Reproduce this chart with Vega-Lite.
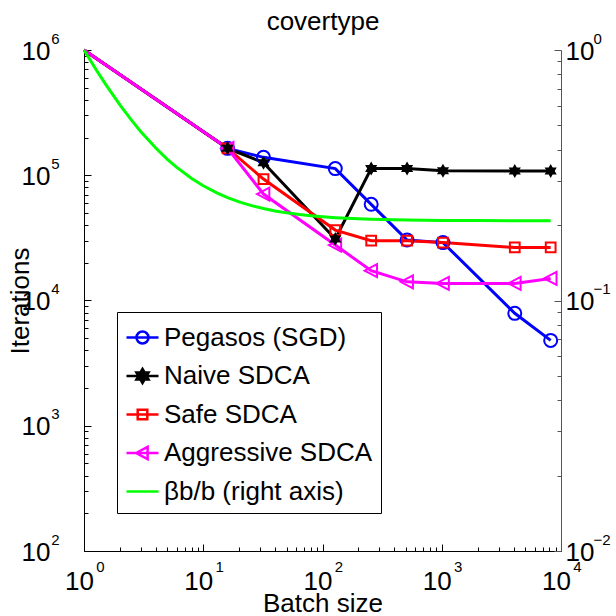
{
  "$schema": "https://vega.github.io/schema/vega-lite/v6.json",
  "autosize": {"type": "none"},
  "width": 477,
  "height": 501,
  "padding": {"left": 84, "top": 50, "right": 55, "bottom": 65},
  "background": "white",
  "config": {"view": {"stroke": null}, "font": "Liberation Sans"},
  "datasets": {
    "iter": [
      {"series": "Pegasos (SGD)", "b": 1, "iter": 1000000},
      {"series": "Pegasos (SGD)", "b": 16, "iter": 164000},
      {"series": "Pegasos (SGD)", "b": 32, "iter": 139000},
      {"series": "Pegasos (SGD)", "b": 128, "iter": 113000},
      {"series": "Pegasos (SGD)", "b": 256, "iter": 58600},
      {"series": "Pegasos (SGD)", "b": 512, "iter": 30400},
      {"series": "Pegasos (SGD)", "b": 1024, "iter": 29000},
      {"series": "Pegasos (SGD)", "b": 4096, "iter": 7900},
      {"series": "Pegasos (SGD)", "b": 8192, "iter": 4800},
      {"series": "Naive SDCA", "b": 1, "iter": 1000000},
      {"series": "Naive SDCA", "b": 16, "iter": 164000},
      {"series": "Naive SDCA", "b": 32, "iter": 126000},
      {"series": "Naive SDCA", "b": 128, "iter": 31000},
      {"series": "Naive SDCA", "b": 256, "iter": 113000},
      {"series": "Naive SDCA", "b": 512, "iter": 113000},
      {"series": "Naive SDCA", "b": 1024, "iter": 108500},
      {"series": "Naive SDCA", "b": 4096, "iter": 108000},
      {"series": "Naive SDCA", "b": 8192, "iter": 108000},
      {"series": "Safe SDCA", "b": 1, "iter": 1000000},
      {"series": "Safe SDCA", "b": 16, "iter": 164000},
      {"series": "Safe SDCA", "b": 32, "iter": 93300},
      {"series": "Safe SDCA", "b": 128, "iter": 36500},
      {"series": "Safe SDCA", "b": 256, "iter": 30000},
      {"series": "Safe SDCA", "b": 512, "iter": 30000},
      {"series": "Safe SDCA", "b": 1024, "iter": 29000},
      {"series": "Safe SDCA", "b": 4096, "iter": 26500},
      {"series": "Safe SDCA", "b": 8192, "iter": 26500},
      {"series": "Aggressive SDCA", "b": 1, "iter": 1000000},
      {"series": "Aggressive SDCA", "b": 16, "iter": 164000},
      {"series": "Aggressive SDCA", "b": 32, "iter": 70800},
      {"series": "Aggressive SDCA", "b": 128, "iter": 27700},
      {"series": "Aggressive SDCA", "b": 256, "iter": 17300},
      {"series": "Aggressive SDCA", "b": 512, "iter": 14100},
      {"series": "Aggressive SDCA", "b": 1024, "iter": 13700},
      {"series": "Aggressive SDCA", "b": 4096, "iter": 13700},
      {"series": "Aggressive SDCA", "b": 8192, "iter": 15000}
    ],
    "beta": [
      {"series": "βb/b (right axis)", "b": 1, "beta": 1.0},
      {"series": "βb/b (right axis)", "b": 1.25, "beta": 0.842},
      {"series": "βb/b (right axis)", "b": 1.5, "beta": 0.736},
      {"series": "βb/b (right axis)", "b": 2, "beta": 0.604},
      {"series": "βb/b (right axis)", "b": 2.5, "beta": 0.525},
      {"series": "βb/b (right axis)", "b": 3, "beta": 0.472},
      {"series": "βb/b (right axis)", "b": 4, "beta": 0.406},
      {"series": "βb/b (right axis)", "b": 5, "beta": 0.366},
      {"series": "βb/b (right axis)", "b": 6, "beta": 0.34},
      {"series": "βb/b (right axis)", "b": 8, "beta": 0.307},
      {"series": "βb/b (right axis)", "b": 10, "beta": 0.287},
      {"series": "βb/b (right axis)", "b": 13, "beta": 0.269},
      {"series": "βb/b (right axis)", "b": 16, "beta": 0.2575},
      {"series": "βb/b (right axis)", "b": 20, "beta": 0.2476},
      {"series": "βb/b (right axis)", "b": 25, "beta": 0.2397},
      {"series": "βb/b (right axis)", "b": 32, "beta": 0.2328},
      {"series": "βb/b (right axis)", "b": 40, "beta": 0.2278},
      {"series": "βb/b (right axis)", "b": 50, "beta": 0.2238},
      {"series": "βb/b (right axis)", "b": 64, "beta": 0.2204},
      {"series": "βb/b (right axis)", "b": 80, "beta": 0.2179},
      {"series": "βb/b (right axis)", "b": 100, "beta": 0.2159},
      {"series": "βb/b (right axis)", "b": 128, "beta": 0.2142},
      {"series": "βb/b (right axis)", "b": 160, "beta": 0.213},
      {"series": "βb/b (right axis)", "b": 200, "beta": 0.212},
      {"series": "βb/b (right axis)", "b": 256, "beta": 0.2111},
      {"series": "βb/b (right axis)", "b": 400, "beta": 0.21},
      {"series": "βb/b (right axis)", "b": 512, "beta": 0.2095},
      {"series": "βb/b (right axis)", "b": 1024, "beta": 0.2088},
      {"series": "βb/b (right axis)", "b": 2048, "beta": 0.2084},
      {"series": "βb/b (right axis)", "b": 4096, "beta": 0.2082},
      {"series": "βb/b (right axis)", "b": 8192, "beta": 0.2081}
    ],
    "start": [
      {"series": "Pegasos (SGD)", "b": 1, "rel": 1},
      {"series": "Naive SDCA", "b": 1, "rel": 1},
      {"series": "Safe SDCA", "b": 1, "rel": 1},
      {"series": "Aggressive SDCA", "b": 1, "rel": 1},
      {"series": "βb/b (right axis)", "b": 1, "rel": 1}
    ]
  },
  "resolve": {"scale": {"y": "independent", "color": "independent", "shape": "independent", "fill": "independent", "stroke": "independent"}, "axis": {"x": "independent", "y": "independent"}},
  "layer": [
    {
      "data": {"name": "iter"},
      "mark": {"type": "line", "strokeWidth": 3},
      "encoding": {
        "x": {"field": "b", "type": "quantitative", "scale": {"type": "log", "domain": [1, 10000], "nice": false},
          "axis": {"orient": "bottom", "values": [1, 10, 100, 1000, 10000], "labelExpr": "'10'", "labelFont": "Liberation Sans", "labelFontSize": 26, "labelColor": "black", "labelBaseline": "alphabetic", "labelAlign": "center", "labelOffset": -5, "labelPadding": 45.5, "labelFlush": false, "labelOverlap": false, "tickSize": -7, "tickColor": "black", "tickWidth": 1, "domainColor": "black", "domainWidth": 1, "grid": false,
            "title": "Batch size", "titleFont": "Liberation Sans", "titleFontSize": 26, "titleFontWeight": "normal", "titleColor": "black", "titleBaseline": "alphabetic", "titleY": 60}},
        "y": {"field": "iter", "type": "quantitative", "scale": {"type": "log", "domain": [100, 1000000], "nice": false},
          "axis": {"orient": "left", "values": [100, 1000, 10000, 100000, 1000000], "labelExpr": "'10'", "labelFont": "Liberation Sans", "labelFontSize": 26, "labelColor": "black", "labelBaseline": "middle", "labelAlign": "right", "labelOffset": 1, "labelPadding": 41, "labelFlush": false, "labelOverlap": false, "tickSize": -7, "tickColor": "black", "domainColor": "black", "domainWidth": 1, "grid": false,
            "title": "Iterations", "titleFont": "Liberation Sans", "titleFontSize": 26, "titleFontWeight": "normal", "titleColor": "black", "titleAngle": -90, "titleBaseline": "alphabetic", "titleAlign": "center", "titleX": -56, "titleY": 250.5}},
        "color": {"field": "series", "type": "nominal",
          "scale": {"domain": ["Pegasos (SGD)", "Naive SDCA", "Safe SDCA", "Aggressive SDCA"], "range": ["#0000ff", "#000000", "#ff0000", "#ff00ff"]}, "legend": null}
      }
    },
    {
      "data": {"name": "iter"},
      "transform": [{"filter": {"field": "b", "gte": 16}}, {"filter": "datum.series !== 'Naive SDCA'"}],
      "mark": {"type": "point", "filled": false, "strokeWidth": 2, "size": 169, "opacity": 1},
      "encoding": {
        "x": {"field": "b", "type": "quantitative", "scale": {"type": "log", "domain": [1, 10000], "nice": false},
          "axis": {"orient": "bottom", "values": [2, 3, 4, 5, 6, 7, 8, 9, 20, 30, 40, 50, 60, 70, 80, 90, 200, 300, 400, 500, 600, 700, 800, 900, 2000, 3000, 4000, 5000, 6000, 7000, 8000, 9000], "labels": false, "domain": false, "grid": false, "tickSize": -4, "tickColor": "black", "title": null}},
        "y": {"field": "iter", "type": "quantitative", "scale": {"type": "log", "domain": [100, 1000000], "nice": false},
          "axis": {"orient": "left", "values": [200, 300, 400, 500, 600, 700, 800, 900, 2000, 3000, 4000, 5000, 6000, 7000, 8000, 9000, 20000, 30000, 40000, 50000, 60000, 70000, 80000, 90000, 200000, 300000, 400000, 500000, 600000, 700000, 800000, 900000], "labels": false, "domain": false, "grid": false, "tickSize": -4, "tickColor": "black", "title": null}},
        "stroke": {"field": "series", "type": "nominal", "scale": {"domain": ["Pegasos (SGD)", "Safe SDCA", "Aggressive SDCA"], "range": ["#0000ff", "#ff0000", "#ff00ff"]}, "legend": null},
        "shape": {"field": "series", "type": "nominal", "scale": {"domain": ["Pegasos (SGD)", "Safe SDCA", "Aggressive SDCA"], "range": ["circle", "M-0.75,-0.75H0.75V0.75H-0.75Z", "M-1,0L0.9,-1L0.9,1Z"]}, "legend": null}
      }
    },
    {
      "data": {"name": "iter"},
      "transform": [{"filter": {"field": "b", "gte": 16}}, {"filter": "datum.series === 'Naive SDCA'"}],
      "mark": {"type": "point", "filled": true, "color": "black", "opacity": 1, "size": 196, "shape": "M0,-1L0.289,-0.5L0.866,-0.5L0.577,0L0.866,0.5L0.289,0.5L0,1L-0.289,0.5L-0.866,0.5L-0.577,0L-0.866,-0.5L-0.289,-0.5Z"},
      "encoding": {
        "x": {"field": "b", "type": "quantitative", "scale": {"type": "log", "domain": [1, 10000], "nice": false},
          "axis": {"orient": "bottom", "values": [1, 10, 100, 1000, 10000], "labelExpr": "format(round(log(datum.value)/LN10),'d')", "labelFont": "Liberation Sans", "labelFontSize": 15, "labelColor": "black", "labelBaseline": "middle", "labelAlign": "center", "labelOffset": 16, "labelPadding": 15, "labelFlush": false, "labelOverlap": false, "ticks": false, "tickSize": 0, "domain": false, "grid": false, "title": null}},
        "y": {"field": "iter", "type": "quantitative", "scale": {"type": "log", "domain": [100, 1000000], "nice": false},
          "axis": {"orient": "left", "values": [100, 1000, 10000, 100000, 1000000], "labelExpr": "format(round(log(datum.value)/LN10),'d')", "labelFont": "Liberation Sans", "labelFontSize": 15, "labelColor": "black", "labelBaseline": "middle", "labelAlign": "right", "labelOffset": -12, "labelPadding": 25, "labelFlush": false, "labelOverlap": false, "ticks": false, "tickSize": 0, "domain": false, "grid": false, "title": null}}
      }
    },
    {
      "data": {"name": "beta"},
      "mark": {"type": "line", "strokeWidth": 3, "color": "#00ff00"},
      "encoding": {
        "x": {"field": "b", "type": "quantitative", "scale": {"type": "log", "domain": [1, 10000], "nice": false}, "axis": null},
        "y": {"field": "beta", "type": "quantitative", "scale": {"type": "log", "domain": [0.01, 1], "nice": false},
          "axis": {"orient": "right", "values": [0.01, 0.1, 1], "labelExpr": "'10'", "labelFont": "Liberation Sans", "labelFontSize": 26, "labelColor": "black", "labelBaseline": "middle", "labelAlign": "left", "labelOffset": 1, "labelPadding": 11, "labelFlush": false, "labelOverlap": false, "tickSize": -7, "tickColor": "#555555", "domainColor": "#555555", "domainWidth": 1, "grid": false, "title": null}}
      }
    },
    {
      "data": {"name": "beta"},
      "mark": {"type": "line", "strokeWidth": 3, "strokeOpacity": 0, "color": "#00ff00"},
      "encoding": {
        "x": {"field": "b", "type": "quantitative", "scale": {"type": "log", "domain": [1, 10000], "nice": false},
          "axis": {"orient": "top", "domain": false, "ticks": false, "labels": false, "grid": false,
            "title": "covertype", "titleFont": "Liberation Sans", "titleFontSize": 26, "titleFontWeight": "normal", "titleColor": "black", "titleBaseline": "alphabetic", "titleY": -21}},
        "y": {"field": "beta", "type": "quantitative", "scale": {"type": "log", "domain": [0.01, 1], "nice": false},
          "axis": {"orient": "right", "values": [0.02, 0.03, 0.04, 0.05, 0.06, 0.07, 0.08, 0.09, 0.2, 0.3, 0.4, 0.5, 0.6, 0.7, 0.8, 0.9], "labels": false, "domain": false, "grid": false, "tickSize": -4, "tickColor": "#555555", "title": null}}
      }
    },
    {
      "data": {"name": "beta"},
      "mark": {"type": "line", "strokeWidth": 3, "strokeOpacity": 0, "color": "#00ff00"},
      "encoding": {
        "x": {"field": "b", "type": "quantitative", "scale": {"type": "log", "domain": [1, 10000], "nice": false}, "axis": null},
        "y": {"field": "beta", "type": "quantitative", "scale": {"type": "log", "domain": [0.01, 1], "nice": false},
          "axis": {"orient": "right", "values": [0.01, 0.1, 1], "labelExpr": "format(round(log(datum.value)/LN10),'d')", "labelFont": "Liberation Sans", "labelFontSize": 15, "labelColor": "black", "labelBaseline": "middle", "labelAlign": "left", "labelOffset": -12, "labelPadding": 32, "labelFlush": false, "labelOverlap": false, "ticks": false, "tickSize": 0, "domain": false, "grid": false, "title": null}}
      }
    },
    {
      "data": {"name": "start"},
      "mark": {"type": "point", "filled": false, "opacity": 0, "strokeWidth": 2.5},
      "encoding": {
        "x": {"field": "b", "type": "quantitative", "scale": {"type": "log", "domain": [1, 10000], "nice": false}, "axis": null},
        "y": {"field": "rel", "type": "quantitative", "scale": {"type": "log", "domain": [0.01, 1], "nice": false}, "axis": null},
        "color": {"field": "series", "type": "nominal",
          "scale": {"domain": ["Pegasos (SGD)", "Naive SDCA", "Safe SDCA", "Aggressive SDCA", "βb/b (right axis)"], "range": ["#0000ff", "#000000", "#ff0000", "#ff00ff", "#00ff00"]},
          "legend": {"orient": "none", "legendX": 33, "legendY": 262, "title": null, "labelFont": "Liberation Sans", "labelFontSize": 26, "labelColor": "black", "labelOffset": 4, "labelLimit": 400, "symbolSize": 1024, "symbolStrokeWidth": 2.5, "symbolOpacity": 1, "rowPadding": 7.5, "padding": 8, "strokeColor": "black", "fillColor": "white", "cornerRadius": 0}},
        "shape": {"field": "series", "type": "nominal",
          "scale": {"domain": ["Pegasos (SGD)", "Naive SDCA", "Safe SDCA", "Aggressive SDCA", "βb/b (right axis)"], "range": [
            "M-1,0H1M0.375,0A0.375,0.375,0,1,1,-0.375,0A0.375,0.375,0,1,1,0.375,0",
            "M-1,0H1M0,-0.44L0.127,-0.22L0.381,-0.22L0.254,0L0.381,0.22L0.127,0.22L0,0.44L-0.127,0.22L-0.381,0.22L-0.254,0L-0.381,-0.22L-0.127,-0.22Z",
            "M-1,0H1M-0.3,-0.3H0.3V0.3H-0.3Z",
            "M-1,0H1M-0.4,0L0.32,-0.38L0.32,0.38Z",
            "M-1,0H1"]},
          "legend": {"orient": "none", "legendX": 33, "legendY": 262, "title": null, "labelFont": "Liberation Sans", "labelFontSize": 26, "labelColor": "black", "labelOffset": 4, "labelLimit": 400, "symbolSize": 1024, "symbolStrokeWidth": 2.5, "symbolOpacity": 1, "rowPadding": 7.5, "padding": 8, "strokeColor": "black", "fillColor": "white", "cornerRadius": 0}},
        "fill": {"field": "series", "type": "nominal",
          "scale": {"domain": ["Pegasos (SGD)", "Naive SDCA", "Safe SDCA", "Aggressive SDCA", "βb/b (right axis)"], "range": ["transparent", "#000000", "transparent", "transparent", "transparent"]},
          "legend": {"orient": "none", "legendX": 33, "legendY": 262, "title": null, "labelFont": "Liberation Sans", "labelFontSize": 26, "labelColor": "black", "labelOffset": 4, "labelLimit": 400, "symbolSize": 1024, "symbolStrokeWidth": 2.5, "symbolOpacity": 1, "rowPadding": 7.5, "padding": 8, "strokeColor": "black", "fillColor": "white", "cornerRadius": 0}}
      }
    }
  ]
}
